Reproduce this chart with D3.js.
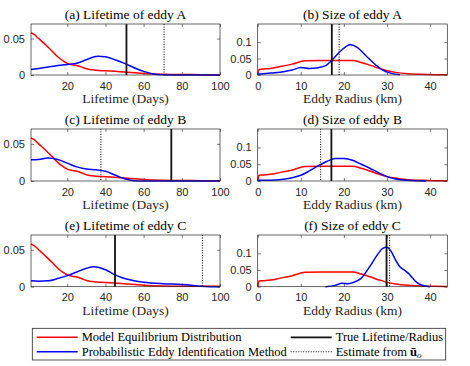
<!DOCTYPE html>
<html>
<head>
<meta charset="utf-8">
<script src="https://cdn.jsdelivr.net/npm/d3@7"></script>
<style>
  body { margin: 0; background: #fff; }
  svg { display: block; }
</style>
</head>
<body>
<svg id="chart" width="470" height="366"></svg>
<script>
// model equilibrium distributions (shared by every eddy)
var lifeModelX = [1, 3, 5, 8, 10, 12, 15, 18, 20, 22, 25, 28, 30, 35, 40, 45, 50, 60, 70, 80, 90, 100];
var lifeModelY = [0.058, 0.055, 0.05, 0.043, 0.038, 0.033, 0.025, 0.019, 0.016, 0.0145, 0.013, 0.0105, 0.0085, 0.0065, 0.0058, 0.005, 0.004, 0.002, 0.001, 0.0006, 0.0005, 0.0005];
var sizeModelX = [0, 0.3, 1, 3, 5, 8, 11, 15, 20, 22, 24, 26, 28, 30, 32, 35, 38, 41, 44];
var sizeModelY = [0, 0.017, 0.018, 0.02, 0.025, 0.033, 0.043, 0.044, 0.044, 0.044, 0.038, 0.03, 0.021, 0.013, 0.008, 0.004, 0.002, 0.001, 0.0005];

// probabilistic eddy identification method
var lifeAX = [1, 5, 10, 15, 20, 25, 30, 36, 40, 45, 50, 55, 60, 65, 70, 75, 100];
var lifeAY = [0.0075, 0.009, 0.011, 0.013, 0.0145, 0.016, 0.021, 0.0256, 0.025, 0.021, 0.016, 0.01, 0.005, 0.0015, 0.0003, 0, 0];
var sizeAX = [0, 3, 6, 8, 10, 12, 14, 16, 17, 19, 21.5, 23, 25, 27, 29, 31, 33];
var sizeAY = [0.002, 0.006, 0.01, 0.015, 0.023, 0.02, 0.022, 0.03, 0.042, 0.07, 0.092, 0.085, 0.06, 0.035, 0.015, 0.005, 0.001];
var lifeBX = [1, 5, 10, 15, 20, 25, 30, 35, 40, 45, 50, 55, 60, 100];
var lifeBY = [0.0286, 0.029, 0.031, 0.029, 0.024, 0.019, 0.016, 0.015, 0.013, 0.008, 0.003, 0.0005, 0, 0];
var sizeBX = [0, 5, 8, 10, 12, 14, 16, 18, 20, 22, 24, 26, 28, 30, 32, 35, 39];
var sizeBY = [0.002, 0.004, 0.01, 0.017, 0.03, 0.045, 0.058, 0.067, 0.067, 0.062, 0.05, 0.038, 0.025, 0.013, 0.006, 0.002, 0];
var lifeCX = [1, 5, 10, 15, 20, 25, 30, 34, 40, 45, 50, 55, 60, 70, 80, 85, 90, 95, 100];
var lifeCY = [0.008, 0.0075, 0.008, 0.011, 0.015, 0.02, 0.025, 0.027, 0.023, 0.016, 0.011, 0.008, 0.006, 0.004, 0.003, 0.002, 0.0005, 0, 0];
var sizeCX = [15.7, 18, 19.5, 21, 22, 24, 26, 28, 29, 30, 31, 32, 33, 34, 35, 36, 37, 38, 40];
var sizeCY = [0, 0.004, 0.01, 0.009, 0.012, 0.025, 0.06, 0.1, 0.115, 0.118, 0.105, 0.08, 0.06, 0.05, 0.04, 0.025, 0.012, 0.005, 0];

// true value (solid) and estimate from u_o (dotted)
var trueVals = [51, 17.2, 74.5, 17.1, 45, 29.9];
var estVals = [70.7, 18.9, 37.6, 14.6, 90.8, 30.6];
var titles = ["(a) Lifetime of eddy A", "(b) Size of eddy A", "(c) Lifetime of eddy B",
              "(d) Size of eddy B", "(e) Lifetime of eddy C", "(f) Size of eddy C"];

var lifeTicks = [20, 40, 60, 80, 100], lifeYTicks = [0, 0.05];
var sizeTicks = [0, 10, 20, 30, 40], sizeYTicks = [0, 0.05, 0.1];

var serif = "'Liberation Serif', 'DejaVu Serif', serif";
var sans = "'Liberation Sans', Arial, sans-serif";

var zip = (xs, ys) => xs.map((x, i) => [x, ys[i]]);
var blue = [zip(lifeAX, lifeAY), zip(sizeAX, sizeAY), zip(lifeBX, lifeBY),
            zip(sizeBX, sizeBY), zip(lifeCX, lifeCY), zip(sizeCX, sizeCY)];
var lifeModel = zip(lifeModelX, lifeModelY), sizeModel = zip(sizeModelX, sizeModelY);

var svg = d3.select("#chart");
var cols = [[31, 220], [257.7, 447.3]];
var rows = [[24, 75], [129, 181], [235, 286.7]];

titles.forEach(function(t, i) {
  var isLife = i % 2 == 0;
  var c = cols[i % 2], r = rows[Math.floor(i / 2)];
  var x = d3.scaleLinear().domain(isLife ? [1, 100] : [0, 44]).range(c);
  var y = d3.scaleLinear().domain(isLife ? [0, 0.07] : [0, 0.155]).range([r[1], r[0]]);
  var g = svg.append("g");

  var line = d3.line().x(d => x(d[0])).y(d => y(d[1])).curve(d3.curveMonotoneX);

  // bottom / left axes with ticks inside, mirrored ticks top / right
  var xt = isLife ? lifeTicks : sizeTicks, yt = isLife ? lifeYTicks : sizeYTicks;
  g.append("g").attr("transform", `translate(0,${r[1]})`)
    .call(d3.axisBottom(x).tickValues(xt).tickSizeInner(-3).tickSizeOuter(0).tickPadding(7).tickFormat(d3.format("d")));
  g.append("g").attr("transform", `translate(0,${r[0]})`)
    .call(d3.axisTop(x).tickValues(xt).tickSizeInner(-3).tickSizeOuter(0).tickFormat(""));
  g.append("g").attr("transform", `translate(${c[0]},0)`)
    .call(d3.axisLeft(y).tickValues(yt).tickSizeInner(-3).tickSizeOuter(0).tickPadding(6).tickFormat(d => d == 0 ? "0" : d3.format("")(d)));
  g.append("g").attr("transform", `translate(${c[1]},0)`)
    .call(d3.axisRight(y).tickValues(yt).tickSizeInner(-3).tickSizeOuter(0).tickFormat(""));
  g.selectAll(".domain").remove();
  g.selectAll(".tick line").attr("stroke", "#262626").attr("stroke-width", 0.6);
  g.selectAll(".tick text").attr("fill", "#262626").attr("font-family", sans).attr("font-size", 11);

  g.append("path").datum(isLife ? lifeModel : sizeModel)
    .attr("d", line).attr("fill", "none").attr("stroke", "#ff0000").attr("stroke-width", 1.5);
  g.append("path").datum(blue[i])
    .attr("d", line).attr("fill", "none").attr("stroke", "#0000ff").attr("stroke-width", 1.5);

  g.append("line").attr("x1", x(trueVals[i])).attr("x2", x(trueVals[i]))
    .attr("y1", r[0]).attr("y2", r[1]).attr("stroke", "#111").attr("stroke-width", 1.8);
  g.append("line").attr("x1", x(estVals[i])).attr("x2", x(estVals[i]))
    .attr("y1", r[0]).attr("y2", r[1]).attr("stroke", "#111").attr("stroke-width", 1.1)
    .attr("stroke-dasharray", "1,1.5");

  g.append("rect").attr("x", c[0]).attr("y", r[0]).attr("width", c[1] - c[0]).attr("height", r[1] - r[0])
    .attr("fill", "none").attr("stroke", "#262626").attr("stroke-width", 0.7);

  g.append("text").attr("x", (c[0] + c[1]) / 2).attr("y", r[0] - 5)
    .attr("font-family", serif).attr("text-anchor", "middle").attr("font-size", 13.5).text(t);
  g.append("text").attr("x", (c[0] + c[1]) / 2).attr("y", r[1] + 28)
    .attr("font-family", serif).attr("text-anchor", "middle").attr("font-size", 13.5).attr("fill", "#262626")
    .text(isLife ? "Lifetime (Days)" : "Eddy Radius (km)");
});

// legend
var leg = svg.append("g").attr("font-family", serif).attr("font-size", 12.5);
leg.append("rect").attr("x", 32.3).attr("y", 328.3).attr("width", 413.4).attr("height", 31.7)
  .attr("fill", "#fff").attr("stroke", "#262626").attr("stroke-width", 0.8);
var items = [
  {x: 36.7, y: 337.3, color: "#ff0000", dash: null, w: 1.5, label: "Model Equilibrium Distribution"},
  {x: 36.7, y: 351.7, color: "#0000ff", dash: null, w: 1.5, label: "Probabilistic Eddy Identification Method"},
  {x: 290.7, y: 337.3, color: "#111", dash: null, w: 1.8, label: "True Lifetime/Radius"},
  {x: 290.7, y: 351.7, color: "#111", dash: "1,1.5", w: 1.1, label: "Estimate from "}
];
items.forEach(function(it, k) {
  leg.append("line").attr("x1", it.x).attr("x2", it.x + 41).attr("y1", it.y).attr("y2", it.y)
    .attr("stroke", it.color).attr("stroke-width", it.w).attr("stroke-dasharray", it.dash);
  var tx = leg.append("text").attr("x", it.x + 45).attr("y", it.y + 4).text(it.label);
  if (k == 3) {
    tx.append("tspan").attr("font-weight", "bold").text("ū");
    tx.append("tspan").attr("font-style", "italic").attr("font-size", 9).attr("dy", 2).text("o");
  }
});
</script>
</body>
</html>
